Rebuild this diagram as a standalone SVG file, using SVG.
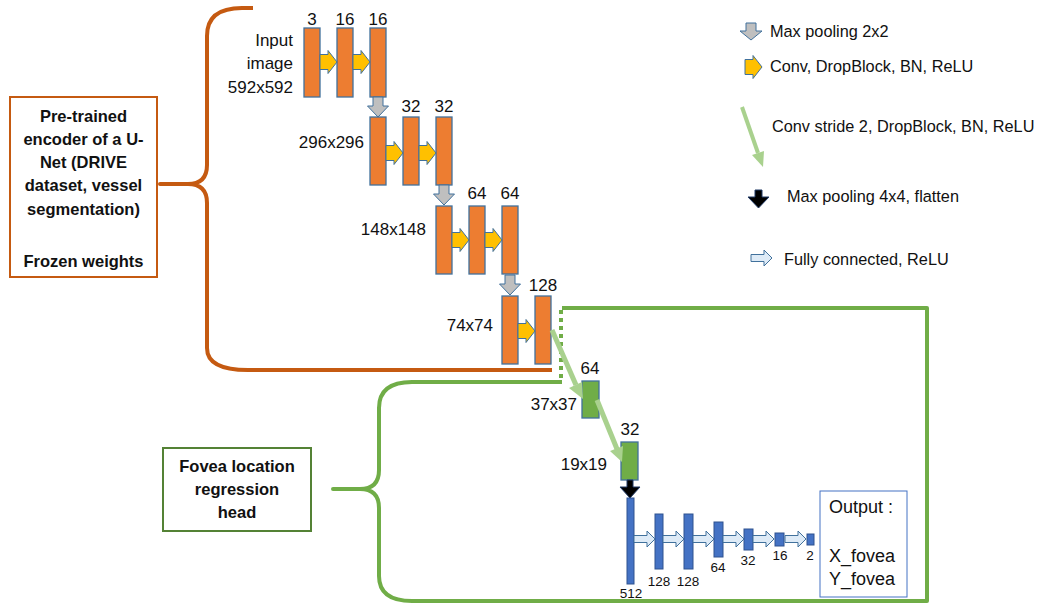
<svg xmlns="http://www.w3.org/2000/svg" xmlns:xlink="http://www.w3.org/1999/xlink" width="1061" height="605" viewBox="0 0 1061 605">
<style>
text{font-family:"Liberation Sans",Arial,sans-serif;fill:#111;}
.lbl{font-size:17px;}
.lg{font-size:16.3px;}
.sm{font-size:13.5px;}
.out{font-size:18px;}
.bold{font-size:16.5px;font-weight:bold;}
.enc{fill:#ED7D31;stroke:#41719C;stroke-width:1.3;}
.hd{fill:#70AD47;stroke:#41719C;stroke-width:1.3;}
.fc{fill:#4472C4;stroke:#2F528F;stroke-width:1;}
.ya{fill:#FFC000;stroke:#41719C;stroke-width:1;}
.ga{fill:#BFBFBF;stroke:#41719C;stroke-width:1;}
.bk{fill:#000;stroke:#1F3864;stroke-width:1;}
.la{fill:#DEEBF7;stroke:#41719C;stroke-width:1;}
.gl{stroke:#A9D18E;stroke-width:5;fill:none;}
.gh{fill:#A9D18E;}
</style>
<defs>
<polygon id="yarr" class="ya" points="0,-7.5 8,-7.5 8,-11.5 17,0 8,11.5 8,7.5 0,7.5"/>
<polygon id="garr" class="ga" points="-5,0 5,0 5,9 10.5,9 0,20 -10.5,9 -5,9"/>
<polygon id="larr" class="la" points="0,-3.5 13,-3.5 13,-8 21,0 13,8 13,3.5 0,3.5"/>
</defs>

<!-- braces / group frames -->
<g id="encoder-brace">
<path d="M253 8 H242 Q207 8 207 36 V165 Q207 184 188 184 H160 H188 Q207 184 207 203 V348 Q207 370 248 370 H552" fill="none" stroke="#C55A11" stroke-width="4" stroke-linejoin="round"/>
</g>
<g id="head-brace">
<path d="M562 382 H412 Q379 382 379 408 V470 Q379 489 360 489 H333 H360 Q379 489 379 508 V576 Q379 601 412 601 H927 V308 H562" fill="none" stroke="#70AD47" stroke-width="4" stroke-linejoin="round"/>
<path d="M561 310 V382" fill="none" stroke="#70AD47" stroke-width="4" stroke-dasharray="4 4"/>
</g>

<!-- label boxes -->
<g id="encoder-box">
<rect x="10" y="97" width="147" height="180" fill="#fff" stroke="#C55A11" stroke-width="2"/>
<text class="bold" text-anchor="middle" x="83.5" y="122">Pre-trained</text>
<text class="bold" text-anchor="middle" x="83.5" y="145">encoder of a U-</text>
<text class="bold" text-anchor="middle" x="83.5" y="168">Net (DRIVE</text>
<text class="bold" text-anchor="middle" x="83.5" y="191">dataset, vessel</text>
<text class="bold" text-anchor="middle" x="83.5" y="215">segmentation)</text>
<text class="bold" text-anchor="middle" x="83.5" y="267">Frozen weights</text>
</g>
<g id="head-box">
<rect x="163" y="448" width="148" height="83" fill="#fff" stroke="#548235" stroke-width="2"/>
<text class="bold" text-anchor="middle" x="237" y="472">Fovea location</text>
<text class="bold" text-anchor="middle" x="237" y="495">regression</text>
<text class="bold" text-anchor="middle" x="237" y="518">head</text>
</g>

<!-- encoder blocks -->
<g id="row1">
<rect class="enc" x="304" y="28" width="16" height="69"/>
<rect class="enc" x="337" y="28" width="16" height="69"/>
<rect class="enc" x="370" y="28" width="16" height="69"/>
<text class="lbl" text-anchor="middle" x="312" y="25">3</text>
<text class="lbl" text-anchor="middle" x="345" y="25">16</text>
<text class="lbl" text-anchor="middle" x="378" y="25">16</text>
<text class="lbl" text-anchor="end" x="293" y="46">Input</text>
<text class="lbl" text-anchor="end" x="293" y="69">image</text>
<text class="lbl" text-anchor="end" x="293" y="93">592x592</text>
</g>
<g id="row2">
<rect class="enc" x="370" y="117" width="16" height="68"/>
<rect class="enc" x="403" y="117" width="16" height="68"/>
<rect class="enc" x="436" y="117" width="16" height="68"/>
<text class="lbl" text-anchor="middle" x="411" y="112">32</text>
<text class="lbl" text-anchor="middle" x="444" y="112">32</text>
<text class="lbl" text-anchor="end" x="364" y="148">296x296</text>
</g>
<g id="row3">
<rect class="enc" x="436" y="206" width="16" height="68"/>
<rect class="enc" x="469" y="206" width="16" height="68"/>
<rect class="enc" x="502" y="206" width="16" height="68"/>
<text class="lbl" text-anchor="middle" x="477" y="199">64</text>
<text class="lbl" text-anchor="middle" x="510" y="199">64</text>
<text class="lbl" text-anchor="end" x="426" y="235">148x148</text>
</g>
<g id="row4">
<rect class="enc" x="502" y="296" width="16" height="68"/>
<rect class="enc" x="535" y="296" width="16" height="68"/>
<text class="lbl" text-anchor="middle" x="543" y="291">128</text>
<text class="lbl" text-anchor="end" x="493" y="331">74x74</text>
</g>

<!-- head blocks -->
<g id="conv1">
<rect class="hd" x="582" y="381" width="17" height="37"/>
<text class="lbl" text-anchor="middle" x="590" y="374">64</text>
<text class="lbl" text-anchor="end" x="577" y="410">37x37</text>
</g>
<g id="conv2">
<rect class="hd" x="621" y="442" width="17" height="38"/>
<text class="lbl" text-anchor="middle" x="630" y="435">32</text>
<text class="lbl" text-anchor="end" x="607" y="470">19x19</text>
</g>
<g id="fc">
<rect class="fc" x="627" y="498" width="7" height="86"/>
<rect class="fc" x="655" y="514" width="8" height="55"/>
<rect class="fc" x="684" y="514" width="9" height="55"/>
<rect class="fc" x="714" y="522" width="9" height="35"/>
<rect class="fc" x="744" y="529" width="9" height="21"/>
<rect class="fc" x="775" y="533" width="9" height="13"/>
<rect class="fc" x="807" y="534" width="7" height="11"/>
<text class="sm" text-anchor="middle" x="631" y="598">512</text>
<text class="sm" text-anchor="middle" x="659" y="586">128</text>
<text class="sm" text-anchor="middle" x="688" y="586">128</text>
<text class="sm" text-anchor="middle" x="718" y="572">64</text>
<text class="sm" text-anchor="middle" x="748" y="565">32</text>
<text class="sm" text-anchor="middle" x="780" y="560">16</text>
<text class="sm" text-anchor="middle" x="810" y="560">2</text>
</g>
<g id="output">
<rect x="820" y="491" width="87" height="106" fill="#fff" stroke="#4472C4" stroke-width="1"/>
<text class="out" x="829" y="513">Output :</text>
<text class="out" x="829" y="562">X_fovea</text>
<text class="out" x="829" y="585">Y_fovea</text>
</g>

<!-- connectors -->
<g id="connectors">
<use xlink:href="#yarr" x="320" y="62"/>
<use xlink:href="#yarr" x="353" y="62"/>
<use xlink:href="#yarr" x="386" y="153"/>
<use xlink:href="#yarr" x="419" y="153"/>
<use xlink:href="#yarr" x="452" y="240"/>
<use xlink:href="#yarr" x="485" y="240"/>
<use xlink:href="#yarr" x="518" y="331"/>
<use xlink:href="#garr" x="378" y="97"/>
<use xlink:href="#garr" x="444" y="185"/>
<use xlink:href="#garr" x="510" y="275"/>
<line class="gl" x1="552" y1="330" x2="576" y2="385"/>
<polygon class="gh" points="583,399 569,388 582,382"/>
<line class="gl" x1="597" y1="400" x2="617" y2="449"/>
<polygon class="gh" points="622,462 610,451 623,446"/>
<polygon class="bk" points="627,480 633,480 633,487 640,487 630,498 620,487 627,487"/>
<use xlink:href="#larr" x="634" y="539"/>
<use xlink:href="#larr" x="663" y="539"/>
<use xlink:href="#larr" x="693" y="539"/>
<use xlink:href="#larr" x="723" y="539"/>
<use xlink:href="#larr" x="753" y="539"/>
<use xlink:href="#larr" x="785" y="539"/>
</g>

<!-- legend -->
<g id="legend">
<polygon class="ga" points="746,23 756,23 756,31 762,31 751,40 740,31 746,31"/>
<text class="lg" x="770" y="37">Max pooling 2x2</text>
<use xlink:href="#yarr" x="745" y="67"/>
<text class="lg" x="770" y="72">Conv, DropBlock, BN, ReLU</text>
<line class="gl" x1="742" y1="107" x2="758" y2="153" style="stroke-width:4"/>
<polygon class="gh" points="763,167 752,155 764,151"/>
<text class="lg" x="772" y="132">Conv stride 2, DropBlock, BN, ReLU</text>
<polygon class="bk" points="755,190 762,190 762,197 769,197 758.5,208 748,197 755,197"/>
<text class="lg" x="787" y="202">Max pooling 4x4, flatten</text>
<use xlink:href="#larr" x="751" y="258"/>
<text class="lg" x="784" y="265">Fully connected, ReLU</text>
</g>
</svg>
